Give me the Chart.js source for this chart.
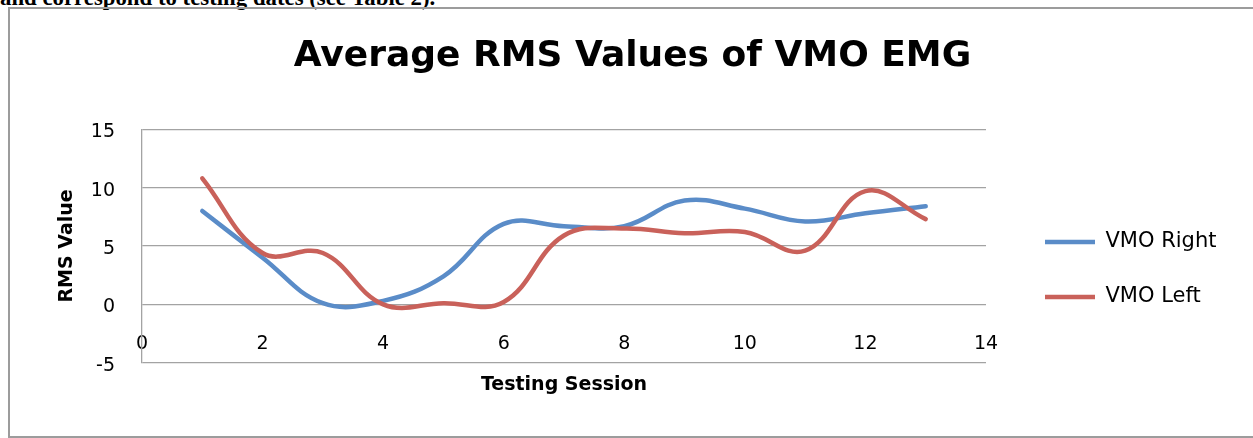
<!DOCTYPE html>
<html><head><meta charset="utf-8">
<script src="https://cdn.jsdelivr.net/npm/chart.js@4.4.1/dist/chart.umd.min.js"></script>
<style>
html,body{margin:0;padding:0;background:#fff;width:1253px;height:438px;overflow:hidden;position:relative}
#cap{position:absolute;left:0;top:-13px;font:bold 22.8px 'Liberation Serif','Times New Roman',serif;line-height:22px;white-space:nowrap;color:#000}
#frame{position:absolute;left:8px;top:7px;width:1300px;height:427px;border:2px solid #9c9c9c;}
#wrap{position:absolute;left:0;top:0;width:1253px;height:438px}
</style></head><body>
<div id="cap">and correspond to testing dates (see Table 2).</div>
<div id="frame"></div>
<div id="wrap"><canvas id="c" width="1253" height="438"></canvas></div>
<script>
// ---- data ----
const sessions = [1, 2, 3, 4, 5, 6, 7, 8, 9, 10, 11, 12, 13];
const vmoRight = [8.0, 4.0, 0.1, 0.3, 2.4, 6.9, 6.7, 6.7, 8.9, 8.2, 7.1, 7.8, 8.4];
const vmoLeft  = [10.8, 4.4, 4.4, 0.0, 0.1, 0.2, 5.9, 6.5, 6.1, 6.2, 4.6, 9.7, 7.3];
const xTicks = [0, 2, 4, 6, 8, 10, 12, 14];
const yTicks = [-5, 0, 5, 10, 15];
const seriesNames = ['VMO Right', 'VMO Left'];
const titleText = 'Average RMS Values of VMO EMG';
const xTitle = 'Testing Session';
const yTitle = 'RMS Value';

// ---- layout constants ----
const LEGEND_W = 267;
const LEGEND_PAD = 34;
const LEGEND_FS = 21;
const LEGEND_X = 1045;
const LEGEND_Y1 = 242;

const legendPlace = {
  id: 'legendPlace',
  beforeLayout(chart) {
    const l = chart.legend;
    if (l && !l._fx) {
      const f = l.fit;
      l.fit = function () { f.call(this); this.width = LEGEND_W; };
      l._fx = true;
    }
  },
  afterLayout(chart) {
    const l = chart.legend;
    if (!l || !l.columnSizes || !l.columnSizes.length) return;
    const colH = l.columnSizes[0].height;
    const curY = (l.top + LEGEND_PAD + l.bottom - colH) / 2;
    const dy = (LEGEND_Y1 - LEGEND_FS / 2) - curY;
    l.top += dy; l.bottom += dy;
    const dx = LEGEND_X - (l.left + LEGEND_PAD);
    l.left += dx; l.right += dx;
  }
};

const FONT = "'DejaVu Sans', Verdana, sans-serif";
Chart.defaults.font.family = FONT;
Chart.defaults.color = '#000';

const blue = '#5A8CC8';
const red = '#C9615A';

new Chart(document.getElementById('c'), {
  type: 'scatter',
  data: {
    datasets: [
      {
        label: seriesNames[0],
        data: sessions.map((x, i) => ({ x, y: vmoRight[i] })),
        borderColor: blue, backgroundColor: blue, borderWidth: 4.5,
        pointRadius: 0, pointHoverRadius: 0, showLine: true, tension: 0.4,
        borderCapStyle: 'round', borderJoinStyle: 'round', order: 1
      },
      {
        label: seriesNames[1],
        data: sessions.map((x, i) => ({ x, y: vmoLeft[i] })),
        borderColor: red, backgroundColor: red, borderWidth: 4.5,
        pointRadius: 0, pointHoverRadius: 0, showLine: true, tension: 0.4,
        borderCapStyle: 'round', borderJoinStyle: 'round', order: 0
      }
    ]
  },
  options: {
    responsive: false,
    animation: false,
    events: [],
    devicePixelRatio: 1,
    layout: { padding: { left: 12, right: 0, top: 0, bottom: 0 } },
    plugins: {
      tooltip: { enabled: false },
      title: {
        display: true, text: titleText, color: '#000',
        font: { family: FONT, size: 36, weight: 'bold', lineHeight: 1.2 },
        padding: { top: 34.6, bottom: 51.5 }
      },
      legend: {
        position: 'right',
        labels: {
          usePointStyle: true, pointStyle: 'line', pointStyleWidth: 50,
          padding: LEGEND_PAD, color: '#000',
          font: { family: FONT, size: LEGEND_FS },
          sort: (a, b) => a.datasetIndex - b.datasetIndex
        }
      }
    },
    scales: {
      x: {
        type: 'linear', min: 0, max: 14,
        afterBuildTicks: s => { s.ticks = xTicks.map(v => ({ value: v })); },
        afterFit: s => { s.height = 75.3; },
        grid: { display: false, drawTicks: false },
        border: { display: false },
        ticks: { mirror: true, padding: 7.7, color: '#000', font: { family: FONT, size: 19 } },
        title: {
          display: true, text: xTitle, color: '#000',
          font: { family: FONT, size: 19, weight: 'bold', lineHeight: 1.2 },
          padding: { top: 0, bottom: 41.6 }
        }
      },
      y: {
        type: 'linear', min: -5, max: 15,
        afterBuildTicks: s => { s.ticks = yTicks.map(v => ({ value: v })); },
        afterFit: s => { s.width = 130; },
        grid: { color: '#a3a3a3', lineWidth: 1.3, drawTicks: false },
        border: { display: true, color: '#a3a3a3', width: 1.3 },
        ticks: { padding: 27, labelOffset: 3, color: '#000', font: { family: FONT, size: 19 } },
        title: {
          display: true, text: yTitle, color: '#000',
          font: { family: FONT, size: 19, weight: 'bold', lineHeight: 1.2 },
          padding: { top: 43.3, bottom: 0 }
        }
      }
    }
  },
  plugins: [legendPlace]
});
</script>
</body></html>
